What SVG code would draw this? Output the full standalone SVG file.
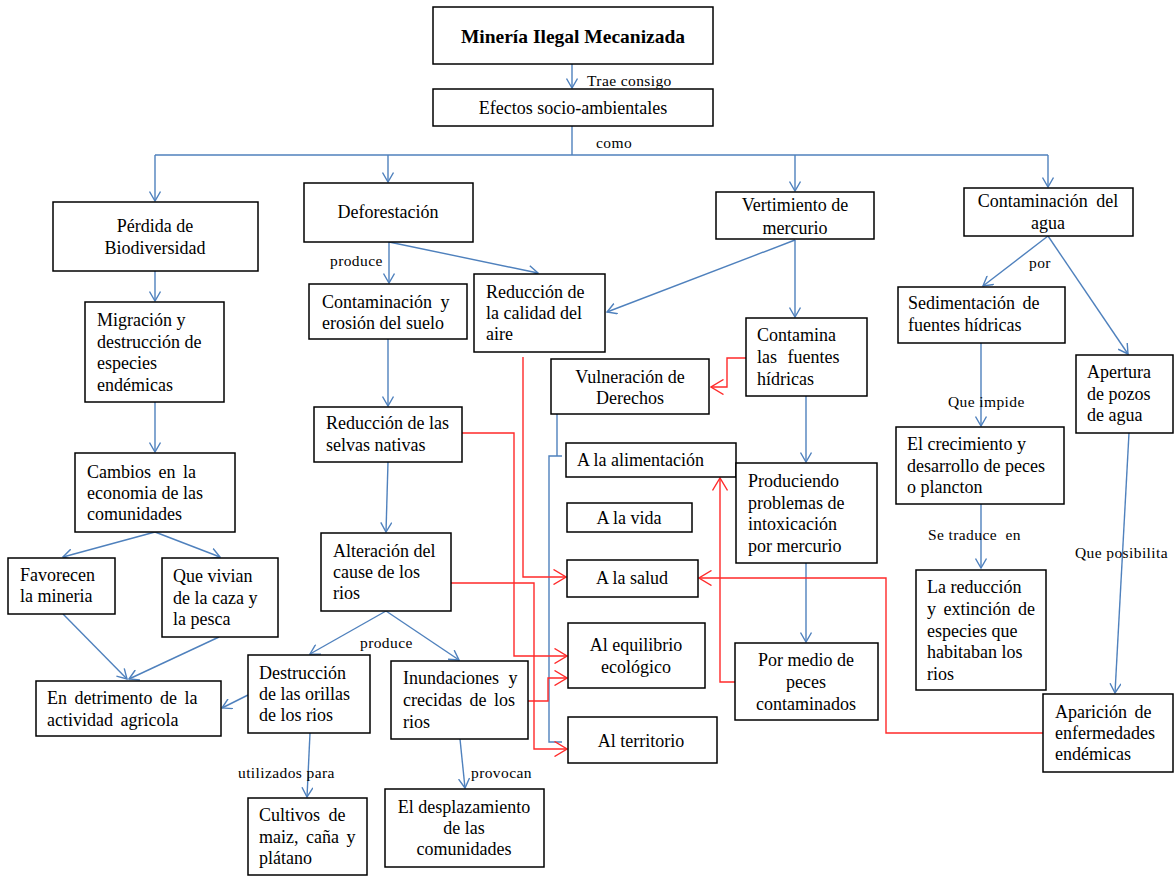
<svg xmlns="http://www.w3.org/2000/svg" width="1174" height="876" viewBox="0 0 1174 876">
<defs>
<style>
.box{fill:#fff;stroke:#000;stroke-width:1.5}
.t{font-family:"Liberation Serif","Times New Roman",serif;font-size:18px;fill:#000}
.c{text-anchor:middle}
.lbl{font-family:"Liberation Serif","Times New Roman",serif;font-size:15.5px;fill:#000;letter-spacing:0.4px}
.bl{stroke:#4f81bd;stroke-width:1.4;fill:none}
.rd{stroke:#ff2a2a;stroke-width:1.4;fill:none}
.ba{marker-end:url(#ab)}
.ra{marker-end:url(#ar)}
</style>
<marker id="ab" viewBox="0 0 11 12" refX="10" refY="6" markerWidth="11" markerHeight="12" markerUnits="userSpaceOnUse" orient="auto"><path d="M0.5,0.5 L10,6 L0.5,11.5" fill="none" stroke="#4f81bd" stroke-width="1.4"/></marker>
<marker id="ar" viewBox="0 0 14 16" refX="13" refY="8" markerWidth="14" markerHeight="16" markerUnits="userSpaceOnUse" orient="auto"><path d="M0.5,0.5 L13,8 L0.5,15.5" fill="none" stroke="#ff2a2a" stroke-width="1.4"/></marker>
</defs>
<rect width="1174" height="876" fill="#fff"/>

<g id="connectors">
<path class="bl ba" d="M572,64 V88"/>
<path class="bl" d="M572,126 V155"/>
<path class="bl" d="M155,155 H1048"/>
<path class="bl ba" d="M155,155 V201"/>
<path class="bl ba" d="M388,155 V182"/>
<path class="bl ba" d="M795,155 V191"/>
<path class="bl ba" d="M1048,155 V187"/>
<path class="bl ba" d="M155,271 V301"/>
<path class="bl ba" d="M155,402 V452"/>
<path class="bl ba" d="M155,532 L63,557"/>
<path class="bl ba" d="M155,532 L220,557"/>
<path class="bl ba" d="M63,614 L127,679"/>
<path class="bl ba" d="M219,637 L129,679"/>
<path class="bl ba" d="M389,242 V283"/>
<path class="bl ba" d="M389,242 L538,273"/>
<path class="bl ba" d="M795,240 L607,312"/>
<path class="bl ba" d="M795,240 V317"/>
<path class="bl ba" d="M388,339 V406"/>
<path class="bl ba" d="M388,462 L386,532"/>
<path class="bl ba" d="M386,611 L310,654"/>
<path class="bl ba" d="M386,611 L459,660"/>
<path class="bl ba" d="M248,695 L222,708"/>
<path class="bl ba" d="M310,733 L307,797"/>
<path class="bl ba" d="M460,739 L465,788"/>
<path class="bl" d="M557,414 V456"/>
<path class="bl" d="M562,456 H549 V742 H562"/>
<path class="bl ba" d="M806,396 V462"/>
<path class="bl ba" d="M806,563 V642"/>
<path class="bl ba" d="M1048,236 L983,286"/>
<path class="bl ba" d="M1048,236 L1128,354"/>
<path class="bl ba" d="M981,343 V426"/>
<path class="bl ba" d="M981,504 V568"/>
<path class="bl ba" d="M1129,433 L1115,693"/>
<path class="rd ra" d="M746,358 H727 V387 H711"/>
<path class="rd ra" d="M523,357 V577 H566"/>
<path class="rd ra" d="M462,433 H514 V656 H567"/>
<path class="rd ra" d="M451,583 H534 V749 H567"/>
<path class="rd ra" d="M528,701 H548 V678 H567"/>
<path class="rd ra" d="M735,682 H720 V478"/>
<path class="rd ra" d="M1043,733 H886 V578 H699"/>
<text class="lbl" x="587" y="86">Trae consigo</text>
<text class="lbl" x="596" y="148">como</text>
<text class="lbl" x="330" y="266">produce</text>
<text class="lbl" x="1029" y="268">por</text>
<text class="lbl" x="948" y="407">Que impide</text>
<text class="lbl" x="928" y="540" xml:space="preserve">Se traduce  en</text>
<text class="lbl" x="1075" y="558">Que posibilita</text>
<text class="lbl" x="360" y="648">produce</text>
<text class="lbl" x="238" y="778">utilizados para</text>
<text class="lbl" x="471" y="778">provocan</text>
</g>

<g id="n-mineria"><rect class="box" x="433" y="7" width="280" height="57"/><text class="t c" x="573" y="43" style="font-weight:bold;font-size:19.5px">Minería Ilegal Mecanizada</text></g>
<g id="n-efectos"><rect class="box" x="433" y="89" width="280" height="37"/><text class="t c" x="573" y="114">Efectos socio-ambientales</text></g>
<g id="n-perdida"><rect class="box" x="53" y="202" width="205" height="69"/><text class="t c" x="155" y="232">Pérdida de</text><text class="t c" x="155" y="254">Biodiversidad</text></g>
<g id="n-deforestacion"><rect class="box" x="304" y="183" width="169" height="59"/><text class="t c" x="388" y="218">Deforestación</text></g>
<g id="n-vertimiento"><rect class="box" x="716" y="192" width="158" height="47"/><text class="t c" x="795" y="211">Vertimiento de</text><text class="t c" x="795" y="234">mercurio</text></g>
<g id="n-contagua"><rect class="box" x="964" y="188" width="169" height="48"/><text class="t c" x="1048" y="207" style="word-spacing:4px">Contaminación del</text><text class="t c" x="1048" y="229">agua</text></g>
<g id="n-migracion"><rect class="box" x="85" y="302" width="139" height="100"/><text class="t" x="97" y="326">Migración y</text><text class="t" x="97" y="348">destrucción de</text><text class="t" x="97" y="369">especies</text><text class="t" x="97" y="391">endémicas</text></g>
<g id="n-suelo"><rect class="box" x="309" y="284" width="158" height="55"/><text class="t" x="322" y="308" style="word-spacing:4px">Contaminación y</text><text class="t" x="322" y="329">erosión del suelo</text></g>
<g id="n-aire"><rect class="box" x="474" y="274" width="131" height="78"/><text class="t" x="486" y="298">Reducción de</text><text class="t" x="486" y="319">la calidad del</text><text class="t" x="486" y="340">aire</text></g>
<g id="n-contamina"><rect class="box" x="746" y="318" width="121" height="78"/><text class="t" x="757" y="341">Contamina</text><text class="t" x="757" y="363" style="word-spacing:6px">las fuentes</text><text class="t" x="757" y="385">hídricas</text></g>
<g id="n-sedimentacion"><rect class="box" x="898" y="287" width="167" height="56"/><text class="t" x="908" y="309" style="word-spacing:3px">Sedimentación de</text><text class="t" x="908" y="331">fuentes hídricas</text></g>
<g id="n-apertura"><rect class="box" x="1076" y="355" width="97" height="78"/><text class="t" x="1087" y="378">Apertura</text><text class="t" x="1087" y="400">de pozos</text><text class="t" x="1087" y="421">de agua</text></g>
<g id="n-vulneracion"><rect class="box" x="551" y="359" width="158" height="55"/><text class="t c" x="630" y="383">Vulneración de</text><text class="t c" x="630" y="404">Derechos</text></g>
<g id="n-selvas"><rect class="box" x="314" y="407" width="148" height="55"/><text class="t" x="326" y="429">Reducción de las</text><text class="t" x="326" y="451">selvas nativas</text></g>
<g id="n-crecimiento"><rect class="box" x="896" y="427" width="168" height="77"/><text class="t" x="907" y="450">El crecimiento y</text><text class="t" x="907" y="472">desarrollo de peces</text><text class="t" x="907" y="493">o plancton</text></g>
<g id="n-cambios"><rect class="box" x="75" y="453" width="160" height="79"/><text class="t" x="87" y="478" style="word-spacing:3px">Cambios en la</text><text class="t" x="87" y="499">economia de las</text><text class="t" x="87" y="520">comunidades</text></g>
<g id="n-alimentacion"><rect class="box" x="566" y="443" width="170" height="34"/><text class="t" x="577" y="466">A la alimentación</text></g>
<g id="n-produciendo"><rect class="box" x="736" y="463" width="141" height="100"/><text class="t" x="748" y="487">Produciendo</text><text class="t" x="748" y="509">problemas de</text><text class="t" x="748" y="530">intoxicación</text><text class="t" x="748" y="552">por mercurio</text></g>
<g id="n-vida"><rect class="box" x="567" y="503" width="125" height="29"/><text class="t c" x="629" y="524">A la vida</text></g>
<g id="n-alteracion"><rect class="box" x="321" y="533" width="130" height="78"/><text class="t" x="333" y="557">Alteración del</text><text class="t" x="333" y="578">cause de los</text><text class="t" x="333" y="599">rios</text></g>
<g id="n-favorecen"><rect class="box" x="8" y="558" width="107" height="56"/><text class="t" x="20" y="581">Favorecen</text><text class="t" x="20" y="602">la mineria</text></g>
<g id="n-vivian"><rect class="box" x="162" y="558" width="116" height="79"/><text class="t" x="173" y="582">Que vivian</text><text class="t" x="173" y="604">de la caza y</text><text class="t" x="173" y="625">la pesca</text></g>
<g id="n-salud"><rect class="box" x="567" y="560" width="131" height="37"/><text class="t c" x="632" y="584">A la salud</text></g>
<g id="n-reduccion"><rect class="box" x="916" y="570" width="130" height="120"/><text class="t" x="927" y="593">La reducción</text><text class="t" x="927" y="615" style="word-spacing:3px">y extinción de</text><text class="t" x="927" y="637">especies que</text><text class="t" x="927" y="658">habitaban los</text><text class="t" x="927" y="680">rios</text></g>
<g id="n-equilibrio"><rect class="box" x="568" y="623" width="137" height="65"/><text class="t c" x="636" y="651">Al equilibrio</text><text class="t c" x="636" y="673">ecológico</text></g>
<g id="n-pormedio"><rect class="box" x="735" y="643" width="143" height="77"/><text class="t c" x="806" y="666">Por medio de</text><text class="t c" x="806" y="688">peces</text><text class="t c" x="806" y="710">contaminados</text></g>
<g id="n-destruccion"><rect class="box" x="248" y="655" width="122" height="78"/><text class="t" x="259" y="679">Destrucción</text><text class="t" x="259" y="700">de las orillas</text><text class="t" x="259" y="721">de los rios</text></g>
<g id="n-inundaciones"><rect class="box" x="391" y="661" width="137" height="78"/><text class="t" x="403" y="684" style="word-spacing:5px">Inundaciones y</text><text class="t" x="403" y="706" style="word-spacing:3px">crecidas de los</text><text class="t" x="403" y="728">rios</text></g>
<g id="n-detrimento"><rect class="box" x="36" y="681" width="185" height="55"/><text class="t" x="47" y="704" style="word-spacing:3px">En detrimento de la</text><text class="t" x="47" y="726" style="word-spacing:3px">actividad agricola</text></g>
<g id="n-aparicion"><rect class="box" x="1043" y="694" width="130" height="78"/><text class="t" x="1055" y="718" style="word-spacing:3px">Aparición de</text><text class="t" x="1055" y="739">enfermedades</text><text class="t" x="1055" y="760">endémicas</text></g>
<g id="n-territorio"><rect class="box" x="568" y="717" width="149" height="46"/><text class="t c" x="641" y="747">Al territorio</text></g>
<g id="n-desplazamiento"><rect class="box" x="385" y="789" width="159" height="78"/><text class="t c" x="464" y="813">El desplazamiento</text><text class="t c" x="464" y="834">de las</text><text class="t c" x="464" y="855">comunidades</text></g>
<g id="n-cultivos"><rect class="box" x="248" y="798" width="119" height="77"/><text class="t" x="259" y="821" style="word-spacing:4px">Cultivos de</text><text class="t" x="259" y="843" style="word-spacing:3px">maiz, caña y</text><text class="t" x="259" y="864">plátano</text></g>
</svg>
